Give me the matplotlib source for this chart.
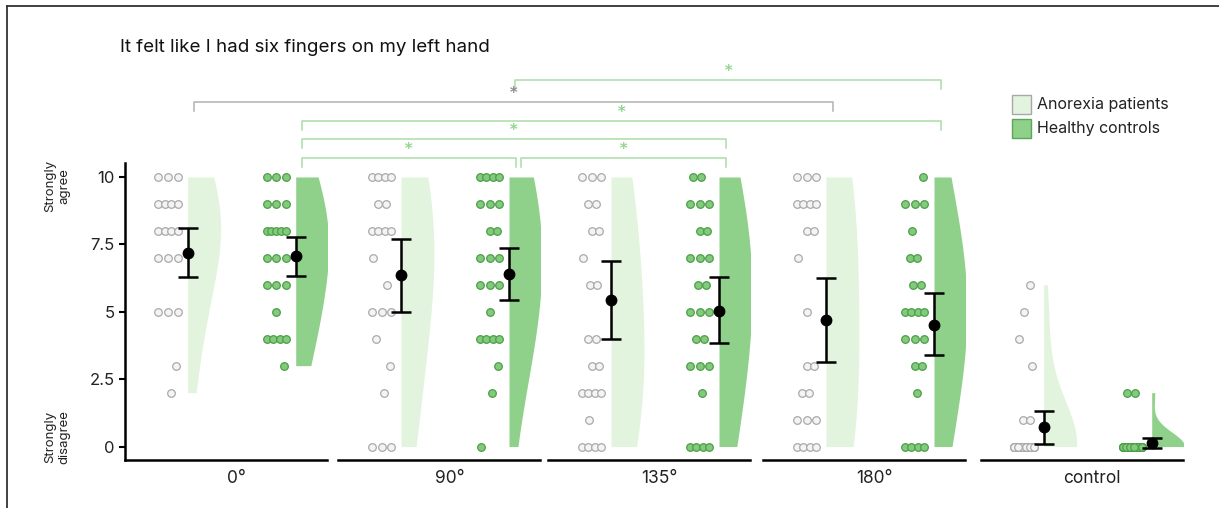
import numpy as np
import matplotlib
matplotlib.use('Agg')
import matplotlib.pyplot as plt
from matplotlib.patches import Rectangle
from matplotlib.lines import Line2D

plt.rcParams['font.family'] = ['Inter', 'DejaVu Sans']

# response levels (0 = strongly disagree ... 10 = strongly agree)
levels = np.arange(11)
groups = ['0°', '90°', '135°', '180°', 'control']

# number of participants giving each level (index = level), per condition
anorexia_counts = [
    [0, 0, 1, 1, 0, 3, 0, 3, 4, 4, 3],
    [3, 0, 1, 1, 1, 3, 1, 1, 4, 2, 4],
    [4, 1, 4, 2, 2, 0, 2, 1, 2, 2, 3],
    [4, 3, 2, 2, 0, 1, 0, 1, 2, 4, 3],
    [20, 2, 0, 1, 1, 1, 1, 0, 0, 0, 0],
]
healthy_counts = [
    [0, 0, 0, 1, 4, 1, 3, 3, 5, 3, 3],
    [1, 0, 1, 1, 4, 1, 3, 3, 2, 3, 4],
    [4, 0, 1, 3, 2, 3, 2, 3, 2, 3, 2],
    [4, 0, 1, 2, 3, 4, 2, 2, 1, 3, 1],
    [22, 0, 2, 0, 0, 0, 0, 0, 0, 0, 0],
]

# means and error bar limits
anorexia_mean = [7.18, 6.35, 5.42, 4.69, 0.72]
anorexia_lo = [6.28, 5.00, 3.98, 3.15, 0.10]
anorexia_hi = [8.12, 7.70, 6.89, 6.24, 1.31]
healthy_mean = [7.05, 6.39, 5.04, 4.52, 0.12]
healthy_lo = [6.33, 5.44, 3.85, 3.39, -0.04]
healthy_hi = [7.78, 7.36, 6.29, 5.69, 0.31]

# significance brackets: (group a, series a, group b, series b)
brackets = [
    (1, 'H', 3, 'H'),
    (0, 'A', 3, 'A'),
    (0, 'H', 3, 'H'),
    (0, 'H', 2, 'H'),
    (0, 'H', 1, 'H'),
    (1, 'H', 2, 'H'),
]
bracket_rows = [0, 1, 2, 3, 4, 4]

light_fill = '#e2f4de'
dark_fill = '#8fd18a'
a_dot_face = '#f4f4f4'
a_dot_edge = '#a9a9a9'
h_dot_face = '#84ca7e'
h_dot_edge = '#4a9f45'

W, H = 1219, 508
fig = plt.figure(figsize=(W / 100, H / 100), dpi=100)

panel_left = [125, 338.3, 548.3, 763.3, 981]
panel_w = 201.5
ax_bottom = 1 - 460 / H
ax_height = (460 - 163.5) / H
xlo, xhi = 0.42, 2.285


def kde_width(vals, grid, adjust=2.0):
    # gaussian kde, bandwidth like R's bw.nrd0
    vals = np.asarray(vals, float)
    sd = vals.std(ddof=1)
    iqr = np.percentile(vals, 75) - np.percentile(vals, 25)
    lo = min(sd, iqr / 1.34) if iqr > 0 else sd
    bw = adjust * 0.9 * lo * len(vals) ** -0.2
    d = np.exp(-0.5 * ((grid[:, None] - vals[None, :]) / bw) ** 2).sum(axis=1)
    return d / d.max()


def dot_offsets(n, v):
    if n == 1:
        return np.array([-0.18 + ((v * 37) % 7 - 3) * 0.025])
    if n == 2:
        return np.array([-0.21, -0.14]) + ((v * 13) % 5 - 2) * 0.015
    k = min(n, 6)
    return np.resize(np.linspace(-0.27, -0.09, k), n)


axes = []
for i, g in enumerate(groups):
    ax = fig.add_axes([panel_left[i] / W, ax_bottom, panel_w / W, ax_height])
    axes.append(ax)
    ax.set_xlim(xlo, xhi)
    ax.set_ylim(-0.5, 10.5)
    for pos, counts, fill, fc, ec, m, lo, hi in [
        (1, anorexia_counts[i], light_fill, a_dot_face, a_dot_edge,
         anorexia_mean[i], anorexia_lo[i], anorexia_hi[i]),
        (2, healthy_counts[i], dark_fill, h_dot_face, h_dot_edge,
         healthy_mean[i], healthy_lo[i], healthy_hi[i]),
    ]:
        vals = np.repeat(levels, counts)
        grid = np.linspace(vals.min(), vals.max(), 200)
        wd = kde_width(vals, grid) * 0.305
        ax.fill_betweenx(grid, pos, pos + wd, color=fill, lw=0, zorder=1)
        xs, ys = [], []
        for v, n in zip(levels, counts):
            if n > 0:
                xs.extend(pos + dot_offsets(n, v))
                ys.extend([v] * n)
        ax.scatter(xs, ys, s=30, facecolor=fc, edgecolor=ec, linewidth=0.9, zorder=2)
        ax.errorbar(pos, m, yerr=[[m - lo], [hi - m]], fmt='o', color='black',
                    ms=7.5, elinewidth=1.8, capsize=7.5, capthick=1.8, zorder=4)
    for s in ['top', 'right', 'left']:
        ax.spines[s].set_visible(False)
    ax.spines['bottom'].set_linewidth(1.8)
    ax.set_xticks([1.45])
    ax.set_xticklabels([g], fontsize=12.5, color='#222222')
    ax.tick_params(axis='x', length=0, pad=7)
    if i == 0:
        ax.spines['left'].set_linewidth(1.8)
        ax.spines['left'].set_visible(True)
        ax.set_yticks([0, 2.5, 5, 7.5, 10])
        ax.set_yticklabels(['0', '2.5', '5', '7.5', '10'], fontsize=12, color='#222222')
        ax.tick_params(axis='y', length=4.5, width=1.5, pad=3)
    else:
        ax.set_yticks([])

# significance brackets
inv = fig.transFigure.inverted()


def fx(i, x):
    return inv.transform(axes[i].transData.transform((x, 0)))[0]


row_y = [79.6, 101.5, 120.6, 139, 157.5]
ends = []
for (ga, sa, gb, sb), r in zip(brackets, bracket_rows):
    xa = (1 if sa == 'A' else 2) + 0.06
    xb = (1 if sb == 'A' else 2) + 0.065
    if (r, ga, sa) in ends:
        xa += 0.055
    ends.append((r, gb, sb))
    x1, x2 = fx(ga, xa), fx(gb, xb)
    col = '#b2b2b2' if sa == 'A' else '#a9dca5'
    scol = '#8c8c8c' if sa == 'A' else '#8fd48a'
    y = 1 - row_y[r] / H
    yt = y - 9 / H
    fig.add_artist(Line2D([x1, x1, x2, x2], [yt, y, y, yt], color=col, lw=1.1))
    fig.text((x1 + x2) / 2, y + 7 / H, '*', color=scol, fontsize=13.5,
             ha='center', va='center')

# title and side labels
fig.text(120 / W, 1 - 47 / H, 'It felt like I had six fingers on my left hand',
         fontsize=13.5, va='center', ha='left', color='#111111')
fig.text(57.5 / W, 1 - 186 / H, 'Strongly\nagree', rotation=90, fontsize=9.5,
         ha='center', va='center', multialignment='center', color='#222222')
fig.text(57.5 / W, 1 - 437 / H, 'Strongly\ndisagree', rotation=90, fontsize=9.5,
         ha='center', va='center', multialignment='center', color='#222222')

# legend
for k, (lab, fc, ec) in enumerate([('Anorexia patients', light_fill, '#a8a8a8'),
                                    ('Healthy controls', dark_fill, '#5aa856')]):
    top = 95 + k * 24.3
    fig.add_artist(Rectangle((1012 / W, 1 - (top + 18.5) / H), 18.5 / W, 18.5 / H,
                             facecolor=fc, edgecolor=ec, lw=1.0))
    fig.text(1037 / W, 1 - (top + 9.5) / H, lab, fontsize=11.5, va='center',
             ha='left', color='#222222')

# frame
fig.add_artist(Line2D([7.3 / W, 1], [1 - 5.5 / H, 1 - 5.5 / H], color='#333333', lw=1.3))
fig.add_artist(Line2D([7.3 / W, 7.3 / W], [0, 1 - 5.5 / H], color='#333333', lw=1.3))

fig.savefig('out.png', dpi=100)
